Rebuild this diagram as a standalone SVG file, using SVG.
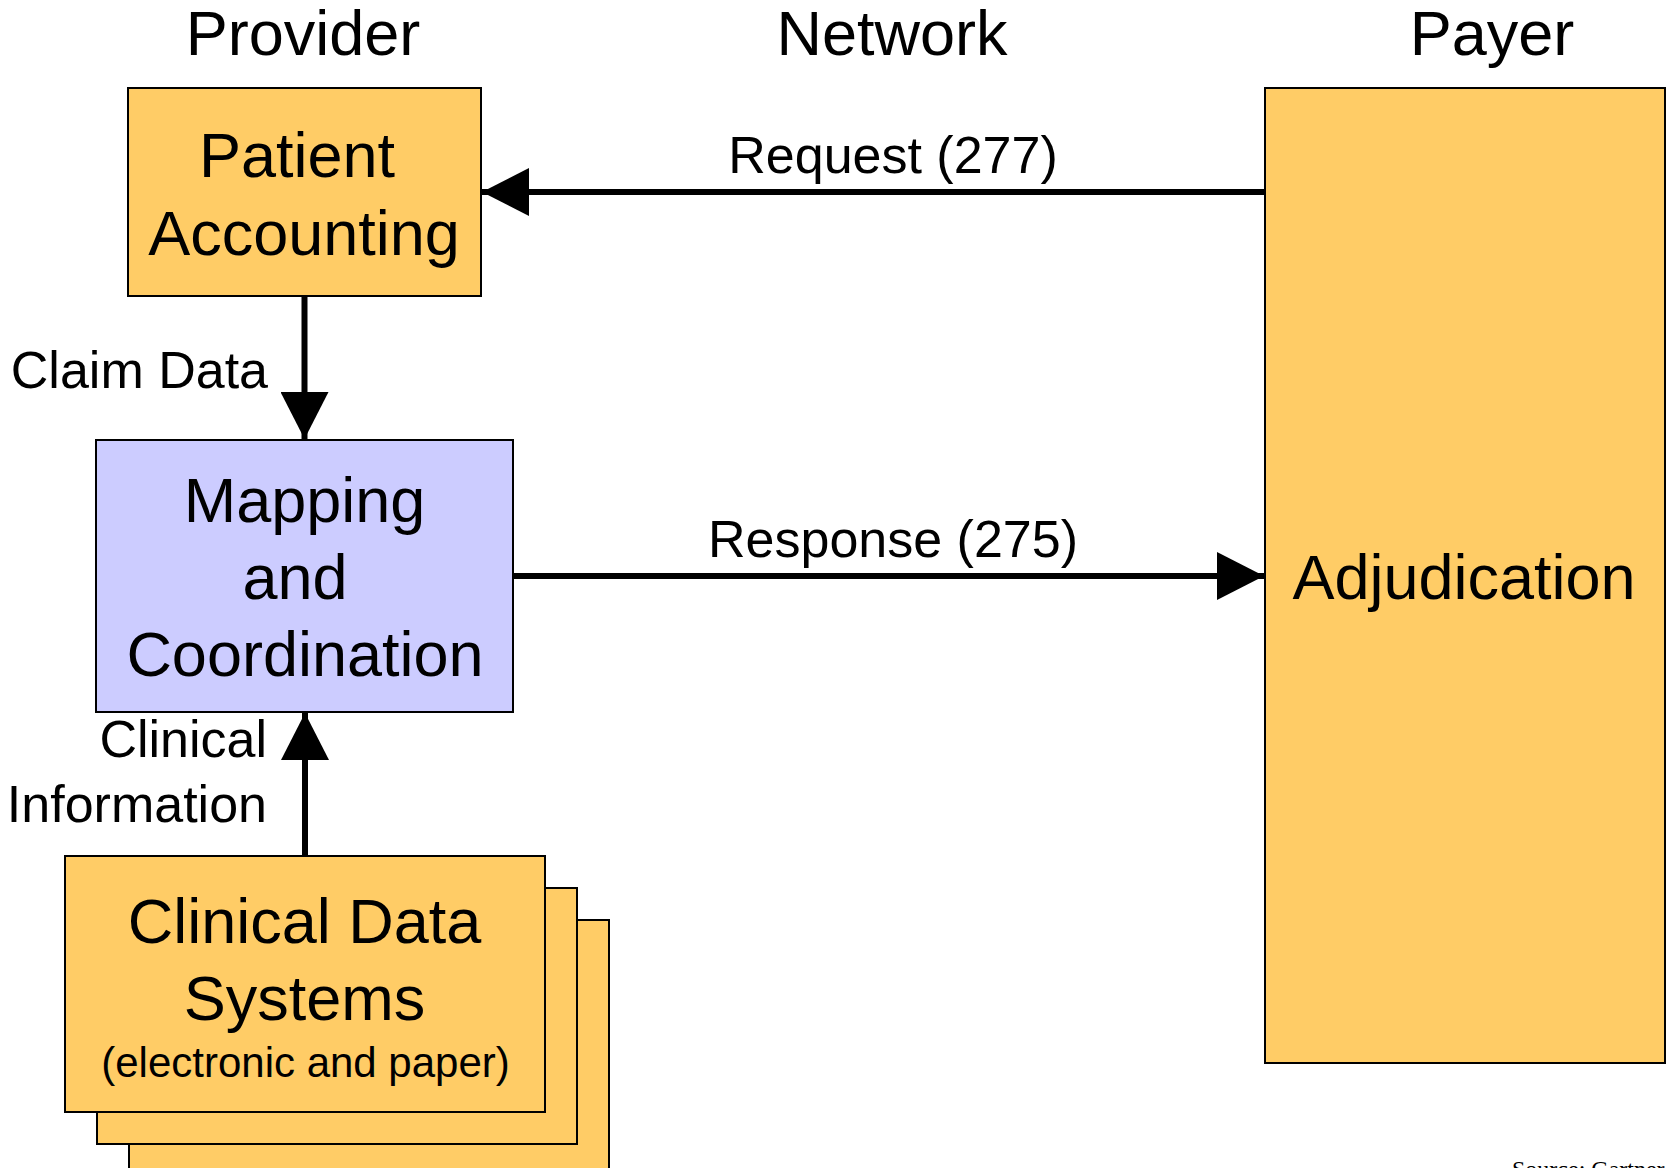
<svg xmlns="http://www.w3.org/2000/svg" width="1671" height="1168" viewBox="0 0 1671 1168">
<style>
.box{fill:#FFCC66;stroke:#000;stroke-width:2}
.map{fill:#CCCCFF;stroke:#000;stroke-width:2}
.t{font-family:"Liberation Sans",Arial,sans-serif;fill:#000}
.big{font-size:63px;text-anchor:middle}
.lbl{font-size:52px}
.conn{stroke:#000;stroke-width:6;fill:none;marker-end:url(#ah)}
</style>
<defs>
<marker id="ah" markerUnits="userSpaceOnUse" markerWidth="47" markerHeight="48" refX="47" refY="24" orient="auto">
<path d="M0,0 L47,24 L0,48 Z" fill="#000"/>
</marker>
</defs>
<rect width="1671" height="1168" fill="#fff"/>
<g id="headers">
<text class="t big" x="303" y="55">Provider</text>
<text class="t big" x="892" y="55">Network</text>
<text class="t big" x="1492" y="55">Payer</text>
</g>
<g id="patient-accounting">
<rect class="box" x="128" y="88" width="353" height="208"/>
<text class="t big" x="297" y="177">Patient</text>
<text class="t big" x="304" y="255">Accounting</text>
</g>
<g id="mapping">
<rect class="map" x="96" y="440" width="417" height="272"/>
<text class="t big" x="304.5" y="522">Mapping</text>
<text class="t big" x="295" y="599">and</text>
<text class="t big" x="305" y="676">Coordination</text>
</g>
<g id="clinical-data-systems">
<rect class="box" x="129" y="920" width="480" height="260"/>
<rect class="box" x="97" y="888" width="480" height="256"/>
<rect class="box" x="65" y="856" width="480" height="256"/>
<text class="t big" x="304.5" y="943">Clinical Data</text>
<text class="t big" x="304.5" y="1020">Systems</text>
<text class="t" x="305.5" y="1077" font-size="42" text-anchor="middle">(electronic and paper)</text>
</g>
<g id="adjudication">
<rect class="box" x="1265" y="88" width="400" height="975"/>
<text class="t big" x="1464" y="599">Adjudication</text>
</g>
<g id="connectors">
<line class="conn" x1="1265" y1="192" x2="482" y2="192"/>
<line class="conn" x1="304.5" y1="296" x2="304.5" y2="439"/>
<line class="conn" x1="513" y1="576" x2="1264" y2="576"/>
<line class="conn" x1="305" y1="856" x2="305" y2="713"/>
<text class="t lbl" x="893" y="173" text-anchor="middle">Request (277)</text>
<text class="t lbl" x="268" y="388" text-anchor="end">Claim Data</text>
<text class="t lbl" x="893" y="557" text-anchor="middle">Response (275)</text>
<text class="t lbl" x="267" y="757" text-anchor="end">Clinical</text>
<text class="t lbl" x="267" y="822" text-anchor="end">Information</text>
</g>
<text x="1512" y="1177" font-family="'Liberation Serif','Times New Roman',serif" font-size="24" fill="#000">Source: Gartner</text>
</svg>
